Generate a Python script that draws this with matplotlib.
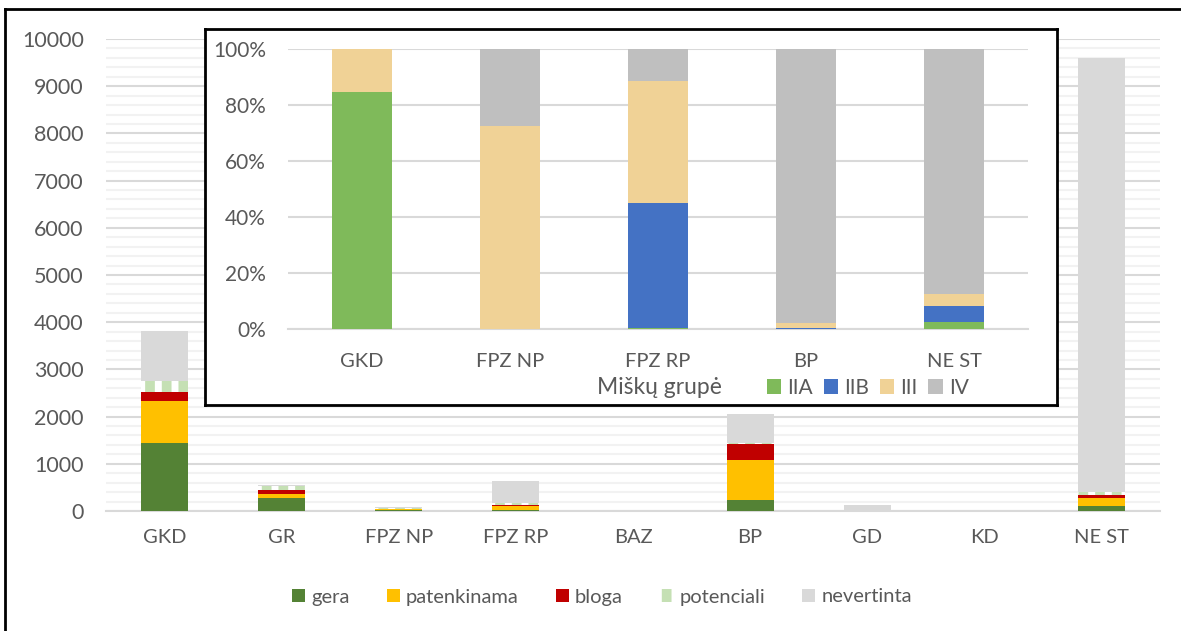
import numpy as np
import matplotlib
matplotlib.use("Agg")
import matplotlib.pyplot as plt
from matplotlib.lines import Line2D
from matplotlib.ticker import MultipleLocator, PercentFormatter

plt.rcParams['font.family'] = ['Lato', 'DejaVu Sans']
plt.rcParams['hatch.linewidth'] = 5.0

# main chart data (ha)
cats = ['GKD', 'GR', 'FPZ NP', 'FPZ RP', 'BAZ', 'BP', 'GD', 'KD', 'NE ST']
gera = [1440, 280, 30, 30, 0, 230, 0, 0, 115]
patenkinama = [890, 85, 15, 70, 0, 840, 0, 0, 170]
bloga = [190, 75, 5, 20, 0, 340, 0, 0, 55]
potenciali = [230, 95, 10, 40, 0, 35, 0, 0, 60]
nevertinta = [1060, 10, 30, 480, 30, 600, 127, 25, 9200]

# inset data (share of area, %)
inset_cats = ['GKD', 'FPZ NP', 'FPZ RP', 'BP', 'NE ST']
IIA = [84.8, 0, 0.3, 0, 2.4]
IIB = [0, 0, 44.7, 0.3, 5.8]
III = [15.2, 72.6, 43.7, 2.0, 4.2]
IV = [0, 27.4, 11.3, 97.7, 87.6]

txt = '#595959'
fig = plt.figure(figsize=(11.81, 6.31), dpi=100)

# ---- main stacked bar chart
ax = fig.add_axes([106/1181, 1-511/631, 1054/1181, 472/631])
x = np.arange(len(cats))
series = [('gera', gera, '#548235'), ('patenkinama', patenkinama, '#FFC000'),
          ('bloga', bloga, '#C00000'), ('potenciali', potenciali, '#C5E0B4'),
          ('nevertinta', nevertinta, '#D9D9D9')]
bottom = np.zeros(len(cats))
for name, vals, col in series:
    if name == 'potenciali':
        ax.bar(x, vals, 0.4, bottom=bottom, color=col, edgecolor='white',
               linewidth=0, hatch='|', label=name, zorder=3)
    else:
        ax.bar(x, vals, 0.4, bottom=bottom, color=col, linewidth=0,
               label=name, zorder=3)
    bottom += np.array(vals)

ax.set_xlim(-0.5, len(cats)-0.5)
ax.set_ylim(0, 10000)
ax.yaxis.set_major_locator(MultipleLocator(1000))
ax.yaxis.set_minor_locator(MultipleLocator(200))
ax.grid(axis='y', which='major', color='#D9D9D9', lw=1.5, zorder=1)
ax.grid(axis='y', which='minor', color='#F2F2F2', lw=1.5, zorder=0)
for s in ['top', 'right', 'left']:
    ax.spines[s].set_visible(False)
ax.spines['bottom'].set_color('#D9D9D9')
ax.spines['bottom'].set_linewidth(1.5)
ax.set_xticks(x)
ax.set_xticklabels(cats)
ax.tick_params(axis='both', which='both', length=0, labelcolor=txt)
ax.tick_params(axis='x', labelsize=14.5, pad=13)
ax.tick_params(axis='y', labelsize=15.5, pad=16)
ax.legend(loc='center', bbox_to_anchor=(602/1181, 1-597/631),
          bbox_transform=fig.transFigure, ncol=5, frameon=False,
          fontsize=14.5, labelcolor=txt, handlelength=0.65, handleheight=0.65,
          handletextpad=0.3, columnspacing=1.85)

# ---- inset frame
frame = fig.add_axes([205/1181, 1-405/631, 852/1181, 376/631], zorder=2)
frame.set_xticks([])
frame.set_yticks([])
for s in frame.spines.values():
    s.set_linewidth(2)
    s.set_color('black')

# ---- inset 100% stacked chart
ins = fig.add_axes([288/1181, 1-329/631, 740/1181, 280/631], zorder=3)
ins.patch.set_alpha(0)
xi = np.arange(len(inset_cats))
bottom = np.zeros(len(inset_cats))
for name, vals, col in [('IIA', IIA, '#7FBA5A'), ('IIB', IIB, '#4472C4'),
                        ('III', III, '#F0D296'), ('IV', IV, '#BFBFBF')]:
    ins.bar(xi, vals, 0.4, bottom=bottom, color=col, linewidth=0, label=name, zorder=3)
    bottom += np.array(vals)
ins.set_xlim(-0.5, len(inset_cats)-0.5)
ins.set_ylim(0, 100)
ins.yaxis.set_major_locator(MultipleLocator(20))
ins.yaxis.set_major_formatter(PercentFormatter(decimals=0))
ins.grid(axis='y', color='#D9D9D9', lw=1.5, zorder=0)
for s in ['top', 'right', 'left']:
    ins.spines[s].set_visible(False)
ins.spines['bottom'].set_color('#D9D9D9')
ins.spines['bottom'].set_linewidth(1.5)
ins.set_xticks(xi)
ins.set_xticklabels(inset_cats)
ins.tick_params(axis='both', length=0, labelcolor=txt)
ins.tick_params(axis='x', labelsize=14.5, pad=17)
ins.tick_params(axis='y', labelsize=15, pad=16)

# inset legend: title sits on the same row as the entries
fig.text(722/1181, 1-388/631, 'Miškų grupė', ha='right', va='center',
         fontsize=16.5, color=txt)
ins.legend(loc='center left', bbox_to_anchor=(748/1181, 1-388/631),
           bbox_transform=fig.transFigure, ncol=4, frameon=False,
           fontsize=15, labelcolor=txt, handlelength=0.7, handleheight=0.7,
           handletextpad=0.3, columnspacing=0.5)

# outer figure border lines (left and top)
fig.add_artist(Line2D([5/1181, 5/1181], [0, 1-9/631], color='black', lw=2))
fig.add_artist(Line2D([5/1181, 1], [1-9/631, 1-9/631], color='black', lw=2))

fig.savefig('out.png', dpi=100)
